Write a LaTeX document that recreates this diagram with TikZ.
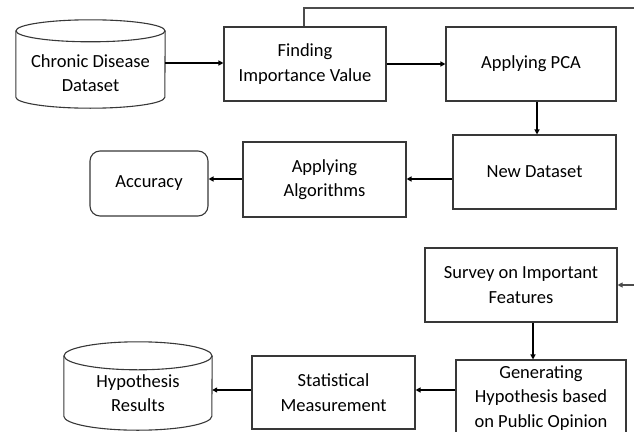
\documentclass[tikz,border=0pt]{standalone}
\usepackage{fontspec}
\setmainfont{Carlito}
\usetikzlibrary{arrows.meta}
\begin{document}
\begin{tikzpicture}[x=1pt,y=-1pt,
  boxline/.style={draw=black!78, line width=1.1pt},
  proc/.style={boxline, rectangle, align=center, inner sep=0pt, font=\fontsize{18.5}{24.5}\selectfont},
  ghost/.style={rectangle, draw=none, inner sep=0pt},
  lbl/.style={align=center, font=\fontsize{18.5}{24.5}\selectfont},
  arr/.style={draw=black, line width=1.7pt, -{Triangle[length=5pt,width=5pt]}},
  thinarr/.style={draw=black!70, line width=1.1pt, -{Triangle[length=5pt,width=5pt]}}]
\useasboundingbox (0,0) rectangle (634,431);
% nodes
\node[ghost, minimum width=149pt, minimum height=88pt,
  label={[lbl, yshift=-9pt]center:Chronic Disease\\Dataset}] (chr) at (90.5,64) {};
\node[proc, minimum width=162pt, minimum height=74pt] (find) at (305,64) {Finding\\Importance Value};
\node[proc, minimum width=170pt, minimum height=74pt] (pca) at (531,64) {Applying PCA};
\node[proc, minimum width=163pt, minimum height=74pt] (newd) at (534.5,172) {New Dataset};
\node[proc, minimum width=163pt, minimum height=75pt] (algo) at (324.5,179.5) {Applying\\Algorithms};
\node[proc, rounded corners=10pt, minimum width=118pt, minimum height=65pt] (acc) at (149,183.5) {Accuracy};
\node[proc, minimum width=192pt, minimum height=74pt] (survey) at (521,285) {Survey on Important\\Features};
\node[proc, minimum width=170pt, minimum height=76pt] (gen) at (541,398) {Generating\\Hypothesis based\\on Public Opinion};
\node[proc, minimum width=163pt, minimum height=73pt] (stat) at (333.5,392.5) {Statistical\\Measurement};
\node[ghost, minimum width=148pt, minimum height=88pt,
  label={[lbl, yshift=-7pt]center:Hypothesis\\Results}] (hyp) at (138,386) {};
% cylinders
\draw[boxline] ([yshift=-11pt]chr.north west) -- ([yshift=11pt]chr.south west)
  arc[start angle=180, end angle=360, x radius=74.5pt, y radius=11pt]
  -- ([yshift=-11pt]chr.north east);
\draw[boxline] ([yshift=-11pt]chr.north) ellipse [x radius=74.5pt, y radius=11pt];
\draw[boxline] ([yshift=-14pt]hyp.north west) -- ([yshift=14pt]hyp.south west)
  arc[start angle=180, end angle=360, x radius=74pt, y radius=14pt]
  -- ([yshift=-14pt]hyp.north east);
\draw[boxline] ([yshift=-14pt]hyp.north) ellipse [x radius=74pt, y radius=14pt];
% connectors
\coordinate (fbA) at (304,8);
\coordinate (fbB) at (645,8);
\coordinate (fbC) at (645,285);
\draw[arr] (chr.east |- 0,63) -- (find.west |- 0,63);
\draw[arr] (find.east) -- (pca.west);
\draw[arr] ([xshift=6pt]pca.south) -- ([xshift=6pt]pca.south |- newd.north);
\draw[arr] (newd.west |- 0,179) -- (algo.east |- 0,179);
\draw[arr] (algo.west |- 0,179) -- (acc.east |- 0,179);
\draw[arr] ([xshift=12pt]survey.south) -- ([xshift=12pt]survey.south |- gen.north);
\draw[arr] (gen.west |- 0,390) -- (stat.east |- 0,390);
\draw[arr] (stat.west |- 0,390) -- (hyp.east |- 0,390);
\draw[thinarr] (find.north -| fbA) -- (fbA) -- (fbB) -- (fbC) -- (survey.east |- fbC);
\end{tikzpicture}
\end{document}
